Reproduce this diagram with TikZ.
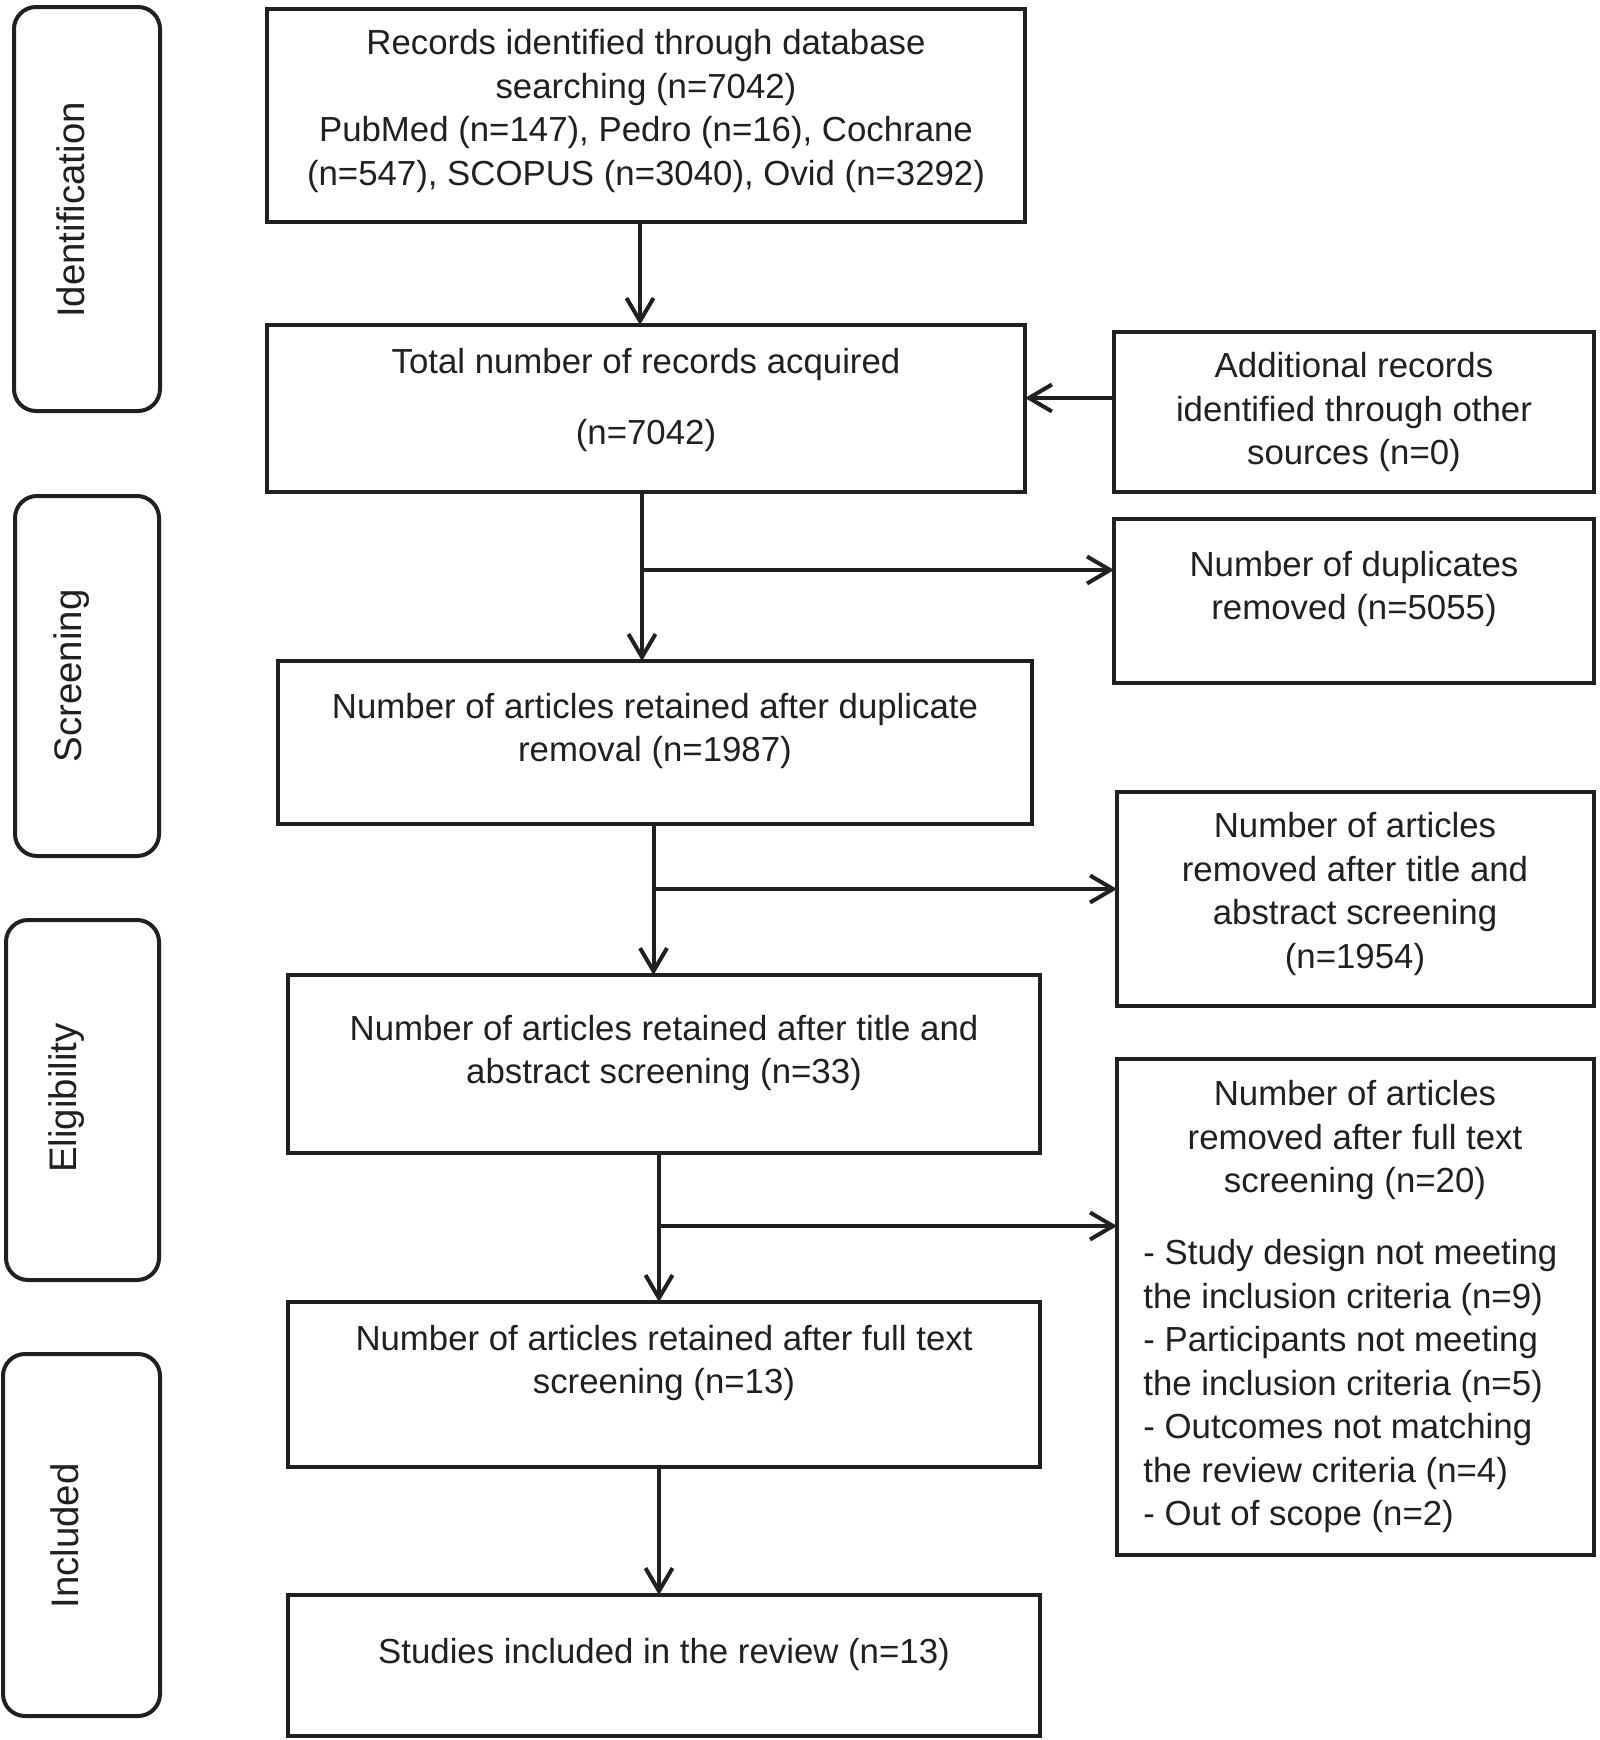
\documentclass[tikz,border=0pt]{standalone}
\usepackage{fontspec}
\setmainfont{Liberation Sans}
\usetikzlibrary{arrows.meta}
\definecolor{ink}{HTML}{231F20}
\begin{document}
\begin{tikzpicture}[x=0.5pt,y=-0.5pt,
  box/.style={draw=ink, line width=2pt, inner sep=0pt, outer sep=0pt},
  side/.style={draw=ink, line width=2pt, inner sep=0pt, outer sep=0pt, rounded corners=11pt},
  txt/.style={text=ink, align=center, inner sep=0pt, font=\fontsize{17.4pt}{21.75pt}\selectfont},
  ltxt/.style={text=ink, align=left, inner sep=0pt, font=\fontsize{17.4pt}{21.75pt}\selectfont},
  stxt/.style={text=ink, rotate=90, inner sep=0pt, font=\fontsize{19.2pt}{23pt}\selectfont},
  arr/.style={draw=ink, line width=2pt, -{Straight Barb[length=11.5pt,width=13.5pt,line width=2pt]}},
  ln/.style={draw=ink, line width=2pt}]
\useasboundingbox (0,0) rectangle (1600,1740);

% side stage boxes
\node[side, minimum width=73pt, minimum height=202pt] (s1) at (87,209) {};
\node[side, minimum width=72pt, minimum height=180pt] (s2) at (87,676) {};
\node[side, minimum width=76.5pt, minimum height=180pt] (s3) at (82.5,1100) {};
\node[side, minimum width=78.5pt, minimum height=181pt] (s4) at (81.5,1535) {};
\node[stxt] (s1t) at (71,210) {Identification};
\node[stxt] (s2t) at (72,676) {Screening};
\node[stxt] (s3t) at (67,1098) {Eligibility};
\node[stxt] (s4t) at (65,1536) {Included};

% main boxes
\node[box, minimum width=379pt, minimum height=106.5pt] (b1) at (646,115.5) {};
\node[box, minimum width=379pt, minimum height=83.5pt] (b2) at (646,408.5) {};
\node[box, minimum width=377pt, minimum height=81.5pt] (b3) at (655,742.5) {};
\node[box, minimum width=376pt, minimum height=89pt] (b4) at (664,1064) {};
\node[box, minimum width=376pt, minimum height=82.5pt] (b5) at (664,1384.5) {};
\node[box, minimum width=376pt, minimum height=70.5pt] (b6) at (664,1665.5) {};

\node[txt] (b1t) at (646,111) {Records identified through database\\searching (n=7042)\\PubMed (n=147), Pedro (n=16), Cochrane\\(n=547), SCOPUS (n=3040), Ovid (n=3292)};
\node[txt] (b2t) at (646,400) {Total number of records acquired\\[14pt](n=7042)};
\node[txt] (b3t) at (655,731) {Number of articles retained after duplicate\\removal (n=1987)};
\node[txt] (b4t) at (664,1053) {Number of articles retained after title and\\abstract screening (n=33)};
\node[txt] (b5t) at (664,1363) {Number of articles retained after full text\\screening (n=13)};
\node[txt] (b6t) at (664,1654) {Studies included in the review (n=13)};

% right boxes
\node[box, minimum width=240pt, minimum height=80pt] (r1) at (1354,412) {};
\node[box, minimum width=240pt, minimum height=82pt] (r2) at (1354,601) {};
\node[box, minimum width=238.5pt, minimum height=107pt] (r3) at (1355.5,899) {};
\node[box, minimum width=238.5pt, minimum height=248pt] (r4) at (1355.5,1307) {};

\node[txt] (r1t) at (1354,412) {Additional records\\identified through other\\sources (n=0)};
\node[txt] (r2t) at (1354,589) {Number of duplicates\\removed (n=5055)};
\node[txt] (r3t) at (1355,894) {Number of articles\\removed after title and\\abstract screening\\(n=1954)};
\node[txt] (r4h) at (1355,1140) {Number of articles\\removed after full text\\screening (n=20)};
\node[ltxt, anchor=west] (r4l) at (1143,1386) {- Study design not meeting\\the inclusion criteria (n=9)\\- Participants not meeting\\the inclusion criteria (n=5)\\- Outcomes not matching\\the review criteria (n=4)\\- Out of scope (n=2)};

% connector helper coordinates
\coordinate (x1) at (640,0);
\coordinate (x2) at (642,0);
\coordinate (x3) at (653.5,0);
\coordinate (x4) at (659,0);
\coordinate (y1) at (0,398);
\coordinate (j2) at (642,570);
\coordinate (j3) at (653.5,889);
\coordinate (j4) at (659,1226);

% connectors
\draw[arr] (b1.south -| x1) -- (b2.north -| x1);
\draw[arr] (r1.west |- y1) -- (b2.east |- y1);
\draw[arr] (b2.south -| x2) -- (b3.north -| x2);
\draw[arr] (j2) -- (r2.west |- j2);
\draw[arr] (b3.south -| x3) -- (b4.north -| x3);
\draw[arr] (j3) -- (r3.west |- j3);
\draw[arr] (b4.south -| x4) -- (b5.north -| x4);
\draw[arr] (j4) -- (r4.west |- j4);
\draw[arr] (b5.south -| x4) -- (b6.north -| x4);
\end{tikzpicture}
\end{document}
